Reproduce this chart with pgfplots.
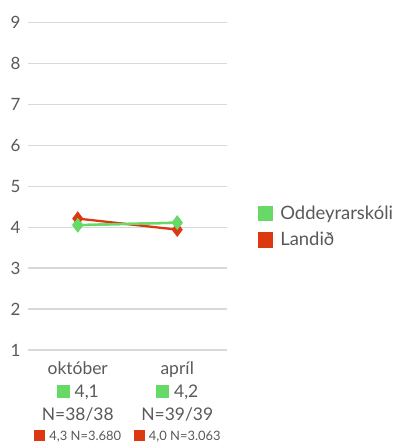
\documentclass[border=0pt]{standalone}
\usepackage{pgfplots}
\pgfplotsset{compat=1.18}
\usepackage{fontspec}
\setmainfont{Lato}
\definecolor{grn}{RGB}{102,217,102}
\definecolor{rd}{RGB}{220,57,18}
\definecolor{txt}{RGB}{89,89,89}
\definecolor{gridc}{RGB}{217,217,217}
\newcommand{\gsq}{\textcolor{grn}{\rule{13bp}{13bp}}}
\newcommand{\rsq}{\textcolor{rd}{\rule{11bp}{11bp}}}
\begin{document}
\begin{tikzpicture}
\begin{axis}[
  scale only axis,
  width=199bp, height=327.5bp,
  xmin=-0.5, xmax=1.5, ymin=1, ymax=9,
  axis line style={draw=none},
  major tick length=0pt,
  ytick={1,...,9},
  ymajorgrids,
  grid style={gridc, line width=1.3pt},
  xtick={0,1},
  xticklabels={
    {október\\[1bp]\gsq\hspace{5bp}4,1\\N=38/38\\[-2bp]{\fontsize{13}{15}\selectfont\rsq\hspace{4bp}4,3 N=3.680}},
    {apríl\\[1bp]\gsq\hspace{5bp}4,2\\N=39/39\\[-2bp]{\fontsize{13}{15}\selectfont\rsq\hspace{4bp}4,0 N=3.063}}},
  xticklabel style={align=center, text=txt, font=\fontsize{17.5}{22.5}\selectfont, yshift=-8bp},
  yticklabel style={text=txt, font=\fontsize{17}{20}\selectfont, xshift=-4bp},
  /pgf/number format/assume math mode=true,
  legend style={draw=none, at={(1.155,0.376)}, anchor=west, font=\fontsize{18.5}{22}\selectfont, text=txt, row sep=7bp, inner sep=0pt, /tikz/every odd column/.style={column sep=5bp}},
  legend cell align=left,
  legend image code/.code={\fill[#1] (0bp,-6.5bp) rectangle (13bp,6.5bp);},
  clip=false,
]
\coordinate (O) at (rel axis cs:0,0);
\addplot[grn, line width=2.3pt, mark=diamond*, mark size=5.5pt, mark options={fill=grn, draw=grn}] coordinates {(0,4.05) (1,4.11)};
\addlegendentry{Oddeyrarskóli}
\addplot[rd, line width=2.3pt, mark=diamond*, mark size=5.5pt, mark options={fill=rd, draw=rd}] coordinates {(0,4.21) (1,3.94)};
\addlegendentry{Landið}
\addplot[grn, line width=2.3pt, mark=diamond*, mark size=5.5pt, mark options={fill=grn, draw=grn}, forget plot] coordinates {(0,4.05) (1,4.11)};
\end{axis}
\pgfresetboundingbox
\path[use as bounding box] ([shift={(-28bp,-97bp)}]O) rectangle ([shift={(372bp,350bp)}]O);
\end{tikzpicture}
\end{document}
